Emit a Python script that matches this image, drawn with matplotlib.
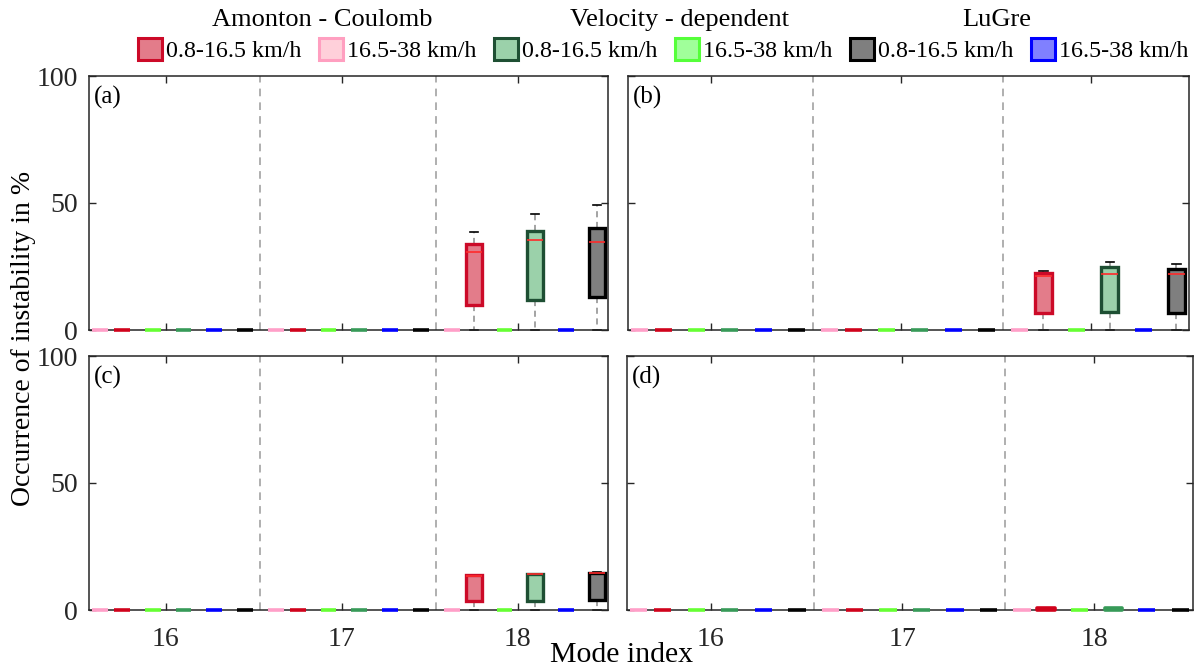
import matplotlib.pyplot as plt
from matplotlib.patches import Patch
import numpy as np

plt.rcParams['font.family'] = ['Liberation Serif', 'DejaVu Serif']

modes = [16, 17, 18]
models = ['Amonton - Coulomb', 'Velocity - dependent', 'LuGre']
speed_labels = ['0.8-16.5 km/h', '16.5-38 km/h']
panel_tags = ['(a)', '(b)', '(c)', '(d)']

# box stats for modes 16, 17, 18: [lower whisker, q1, median, q3, upper whisker]
Z = [0, 0, 0, 0, 0]

# panel (a)
a_ac_low = [Z, Z, [0, 9.8, 30.7, 33.9, 38.6]]
a_ac_high = [Z, Z, Z]
a_vd_low = [Z, Z, [0, 11.8, 35.3, 39.1, 45.6]]
a_vd_high = [Z, Z, Z]
a_lg_low = [Z, Z, [0, 13.1, 34.8, 40.3, 49.1]]
a_lg_high = [Z, Z, Z]

# panel (b)
b_ac_low = [Z, Z, [0, 6.6, 21.3, 22.6, 23.1]]
b_ac_high = [Z, Z, Z]
b_vd_low = [Z, Z, [0, 7.2, 22.0, 24.7, 26.8]]
b_vd_high = [Z, Z, Z]
b_lg_low = [Z, Z, [0, 6.6, 21.9, 24.0, 26.0]]
b_lg_high = [Z, Z, Z]

# panel (c)
c_ac_low = [Z, Z, [0, 3.7, 13.5, 13.8, 13.8]]
c_ac_high = [Z, Z, Z]
c_vd_low = [Z, Z, [0, 3.7, 14.0, 14.2, 14.2]]
c_vd_high = [Z, Z, Z]
c_lg_low = [Z, Z, [0, 3.9, 14.4, 14.4, 14.8]]
c_lg_high = [Z, Z, Z]

# panel (d)
d_ac_low = [Z, Z, [0, 0, 0.3, 0.6, 0.6]]
d_ac_high = [Z, Z, Z]
d_vd_low = [Z, Z, [0, 0, 0.4, 0.8, 0.8]]
d_vd_high = [Z, Z, Z]
d_lg_low = [Z, Z, Z]
d_lg_high = [Z, Z, Z]

# order left -> right inside one mode
panels = [
    [a_ac_high, a_ac_low, a_vd_high, a_vd_low, a_lg_high, a_lg_low],
    [b_ac_high, b_ac_low, b_vd_high, b_vd_low, b_lg_high, b_lg_low],
    [c_ac_high, c_ac_low, c_vd_high, c_vd_low, c_lg_high, c_lg_low],
    [d_ac_high, d_ac_low, d_vd_high, d_vd_low, d_lg_high, d_lg_low],
]

offsets = [-0.375, -0.25, -0.075, 0.1, 0.275, 0.45]
edge_colors = ['#FF9FC0', '#CC0A28', '#55FF3A', '#1E4F33', '#0000FF', '#000000']
face_colors = ['#FFD0DA', '#E37C8A', '#A0FF9A', '#9BD1AA', '#8080FF', '#7F7F7F']
flat_colors = ['#FF9FC8', '#D0021B', '#66FF33', '#379A58', '#0000FF', '#000000']
BOX_W = 0.09

fig = plt.figure(figsize=(11.97, 6.71), dpi=100)
W, H = 1197, 671
boxes_px = [(89.3, 76, 608.3, 330), (628.3, 76, 1188.7, 330),
            (89.3, 356, 608.3, 610), (627.3, 356, 1192.7, 610)]

for k, (l, t, r, b) in enumerate(boxes_px):
    ax = fig.add_axes([l / W, 1 - b / H, (r - l) / W, (b - t) / H])
    for xv in [16.5375, 17.5375]:
        ax.axvline(xv, color='#9a9a9a', ls=(0, (5, 4)), lw=1.1, zorder=1)

    for s, series in enumerate(panels[k]):
        stats = []
        pos = []
        for m, st in zip(modes, series):
            lo, q1, med, q3, hi = st
            stats.append(dict(whislo=lo, q1=q1, med=med, q3=q3, whishi=hi, fliers=[]))
            pos.append(m + offsets[s])
        art = ax.bxp(stats, positions=pos, widths=BOX_W, capwidths=0.045,
                     patch_artist=True, showfliers=False,
                     boxprops=dict(facecolor=face_colors[s], edgecolor=edge_colors[s], linewidth=2.4),
                     whiskerprops=dict(color='#8a8a8a', linestyle=(0, (4, 3)), linewidth=1.1),
                     capprops=dict(color='black', linewidth=1.2),
                     medianprops=dict(color='#FF2A2A', linewidth=1.2),
                     manage_ticks=False)
        for i, st in enumerate(series):
            lo, q1, med, q3, hi = st
            bx = art['boxes'][i]
            bx.set_clip_on(False)
            bx.set_zorder(3)
            art['medians'][i].set_zorder(4)
            wc = art['whiskers'][2 * i:2 * i + 2] + art['caps'][2 * i:2 * i + 2]
            for a in wc:
                a.set_clip_on(False)
            if q3 - q1 < 2:
                # nearly flat box: draw it as a thick bar
                bx.set_visible(False)
                art['medians'][i].set_visible(False)
                ax.bar(pos[i], q3 - q1, bottom=q1, width=BOX_W, color=flat_colors[s],
                       edgecolor=flat_colors[s], linewidth=2.6, joinstyle='round',
                       clip_on=False, zorder=6)
            if hi - lo == 0:
                for a in wc:
                    a.set_visible(False)

    ax.set_xlim(15.565, 18.515)
    ax.set_ylim(0, 100)
    ax.set_xticks(modes)
    ax.set_yticks([0, 50, 100])
    ax.tick_params(direction='in', length=5, width=1, top=True, right=True,
                   labelsize=20, pad=8, colors='#262626')
    ax.tick_params(axis='x', pad=12)
    if k in (1, 3):
        ax.set_yticklabels([])
    if k in (0, 1):
        ax.set_xticklabels([])
    for sp in ax.spines.values():
        sp.set_linewidth(1.1)
        sp.set_color('#262626')
        sp.set_zorder(5)
    ax.annotate(panel_tags[k], xy=(0, 1), xycoords='axes fraction', xytext=(3, -7),
                textcoords='offset points', fontsize=18, va='top', ha='left')

# legend
handles = []
labels = []
for g in range(3):
    for j, idx in enumerate([2 * g + 1, 2 * g]):
        handles.append(Patch(facecolor=face_colors[idx], edgecolor=edge_colors[idx], linewidth=2.2))
        labels.append(speed_labels[j])
fig.legend(handles, labels, ncol=6, loc='center', bbox_to_anchor=(663 / W, 1 - 50 / H),
           frameon=False, fontsize=17.3, handlelength=1.0, handleheight=1.0,
           handletextpad=0.15, columnspacing=0.75, borderaxespad=0, borderpad=0)

for name, xc in zip(models, [322, 679, 997]):
    fig.text(xc / W, 1 - 20 / H, name, fontsize=19, ha='center', va='center')

fig.text(24 / W, 1 - 338 / H, 'Occurrence of instability in %', rotation=90,
         fontsize=20, ha='center', va='center')
fig.text(622 / W, 1 - 655 / H, 'Mode index', fontsize=21.5, ha='center', va='center')

fig.savefig('out.png', dpi=100)
